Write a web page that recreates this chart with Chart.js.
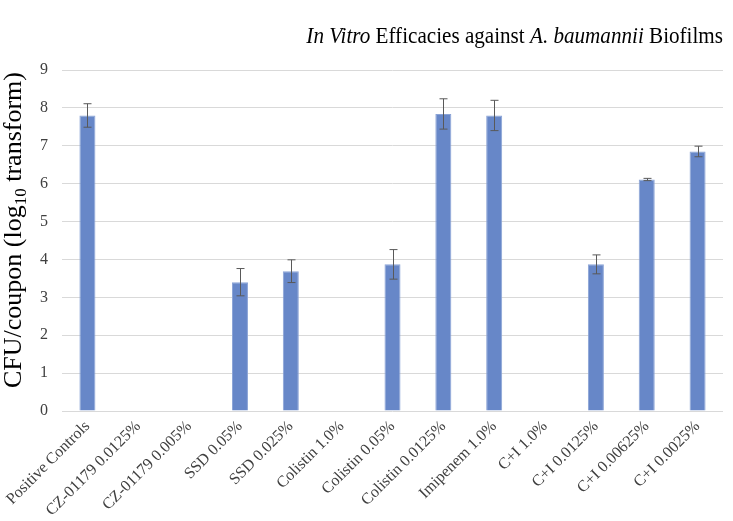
<!DOCTYPE html>
<html>
<head>
<meta charset="utf-8">
<script src="https://cdn.jsdelivr.net/npm/chart.js@4.4.1/dist/chart.umd.min.js"></script>
<style>
  html, body { margin: 0; padding: 0; background: #fff; }
  #wrap { width: 733px; height: 521px; position: relative; }
</style>
</head>
<body>
<div id="wrap"><canvas id="biofilmChart"></canvas></div>
<script>
// Chart data
const categories = ['Positive Controls', 'CZ-01179 0.0125%', 'CZ-01179 0.005%', 'SSD 0.05%', 'SSD 0.025%',
    'Colistin 1.0%', 'Colistin 0.05%', 'Colistin 0.0125%', 'Imipenem 1.0%', 'C+I 1.0%',
    'C+I 0.0125%', 'C+I 0.00625%', 'C+I 0.0025%'];
const cfuValues = [7.8, 0, 0, 3.4, 3.69, 0, 3.87, 7.84, 7.8, 0, 3.87, 6.11, 6.85];
const cfuErrors = [0.31, 0, 0, 0.36, 0.3, 0, 0.39, 0.4, 0.4, 0, 0.25, 0.03, 0.14];
const yTicks = [0, 1, 2, 3, 4, 5, 6, 7, 8, 9];

const serif = '"Liberation Serif", "Times New Roman", serif';
const textColor = '#404040';

// Error bars drawn from the y scale
const errorBars = {
    id: 'errorBars',
    afterDatasetsDraw(chart) {
        const { ctx, scales: { x, y } } = chart;
        ctx.save();
        ctx.strokeStyle = '#595959';
        ctx.lineWidth = 1;
        cfuValues.forEach((v, i) => {
            const e = cfuErrors[i];
            if (!e) return;
            const cx = Math.round(x.getPixelForValue(i)) + 0.5;
            const top = y.getPixelForValue(v + e);
            const bot = y.getPixelForValue(v - e);
            ctx.beginPath();
            ctx.moveTo(cx, top); ctx.lineTo(cx, bot);
            ctx.moveTo(cx - 4, top); ctx.lineTo(cx + 4, top);
            ctx.moveTo(cx - 4, bot); ctx.lineTo(cx + 4, bot);
            ctx.stroke();
        });
        ctx.restore();
    }
};

// Title and axis title with italics / subscript
const titles = {
    id: 'titles',
    afterDraw(chart) {
        const { ctx } = chart;
        ctx.save();
        ctx.fillStyle = '#000';
        ctx.textBaseline = 'alphabetic';

        // title: mixed italic / normal, right aligned, slightly narrow
        const parts = [['In Vitro', true], [' Efficacies against ', false], ['A. baumannii', true], [' Biofilms', false]];
        const fontOf = it => (it ? 'italic ' : '') + '24px ' + serif;
        const squeeze = 0.88;
        let total = 0;
        parts.forEach(p => { ctx.font = fontOf(p[1]); total += ctx.measureText(p[0]).width; });
        ctx.save();
        ctx.translate(723 - total * squeeze, 43);
        ctx.scale(squeeze, 1);
        let tx = 0;
        parts.forEach(p => {
            ctx.font = fontOf(p[1]);
            ctx.fillText(p[0], tx, 0);
            tx += ctx.measureText(p[0]).width;
        });
        ctx.restore();

        // y axis title rotated
        ctx.translate(21, 230);
        ctx.rotate(-Math.PI / 2);
        const a = 'CFU/coupon (log', sub = '10', b = ' transform)';
        ctx.font = '26px ' + serif;
        const wa = ctx.measureText(a).width, wb = ctx.measureText(b).width;
        ctx.font = '17px ' + serif;
        const ws = ctx.measureText(sub).width;
        let sx = -(wa + ws + wb) / 2;
        ctx.font = '26px ' + serif;
        ctx.fillText(a, sx, 0); sx += wa;
        ctx.font = '17px ' + serif;
        ctx.fillText(sub, sx, 5); sx += ws;
        ctx.font = '26px ' + serif;
        ctx.fillText(b, sx, 0);
        ctx.restore();
    }
};

new Chart(document.getElementById('biofilmChart'), {
    type: 'bar',
    data: {
        labels: categories,
        datasets: [{
            data: cfuValues,
            backgroundColor: '#6787c8',
            borderColor: '#8aa3d6',
            borderWidth: 1,
            barPercentage: 0.63,
            categoryPercentage: 0.5
        }]
    },
    options: {
        responsive: true,
        maintainAspectRatio: false,
        animation: false,
        layout: { padding: { top: 70, right: 10, left: 0, bottom: 0 } },
        plugins: { legend: { display: false }, tooltip: { enabled: false }, title: { display: false } },
        scales: {
            x: {
                grid: { display: false, drawTicks: false },
                border: { display: false },
                ticks: {
                    color: textColor,
                    font: { family: serif, size: 16 },
                    minRotation: 45,
                    maxRotation: 45,
                    padding: 6
                },
                afterFit(scale) { scale.height = 110; }
            },
            y: {
                min: 0,
                max: 9,
                afterBuildTicks(scale) { scale.ticks = yTicks.map(v => ({ value: v })); },
                grid: { color: '#d9d9d9', drawTicks: false },
                border: { display: false },
                ticks: {
                    color: textColor,
                    font: { family: serif, size: 16 },
                    padding: 14
                },
                afterFit(scale) { scale.width = 62; }
            }
        }
    },
    plugins: [errorBars, titles]
});
</script>
</body>
</html>
